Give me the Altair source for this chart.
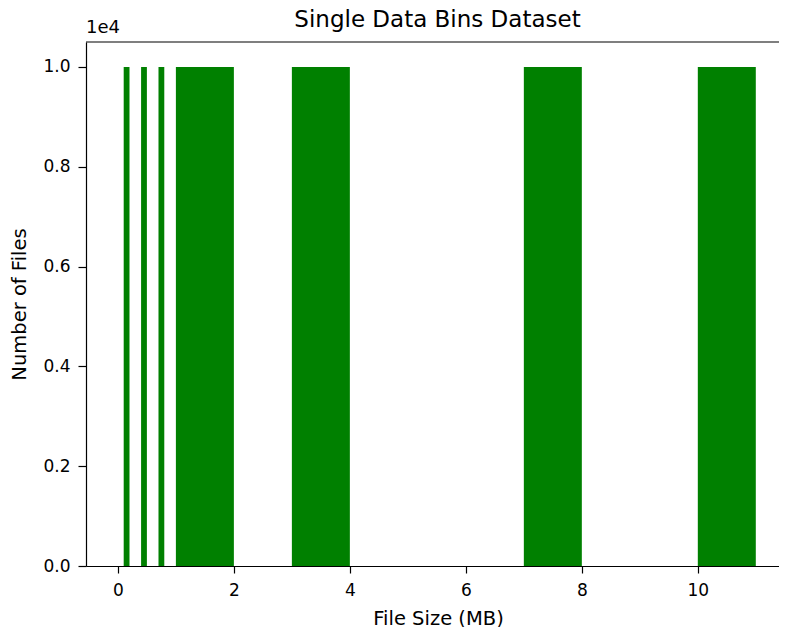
import altair as alt
import pandas as pd

# Bin data (file size bins in MB)
bin_left = [0.1, 0.4, 0.7, 1, 3, 7, 10]
bin_width = [0.1, 0.1, 0.1, 1, 1, 1, 1]
file_counts = [10000, 10000, 10000, 10000, 10000, 10000, 10000]

x_ticks = [0, 2, 4, 6, 8, 10]
y_ticks = [0, 2000, 4000, 6000, 8000, 10000]
x_domain = [-0.55, 11.4]
y_domain = [0, 10500]

df = pd.DataFrame({"left": bin_left, "width": bin_width, "count": file_counts})

FONT = "DejaVu Sans"
W, H = 693, 524

bars = (
    alt.Chart(df)
    .transform_calculate(right="datum.left + datum.width")
    .mark_bar(color="#008000")
    .encode(
        x=alt.X(
            "left:Q",
            scale=alt.Scale(domain=x_domain, nice=False, zero=False),
            axis=alt.Axis(
                values=x_ticks,
                title="File Size (MB)",
                format="d",
                titleX=352,
                titleY=58,
                titleAlign="center",
                titleBaseline="alphabetic",
                titleFontSize=19.5,
                labelFontSize=17,
                tickSize=7,
                labelPadding=9,
            ),
        ),
        x2="right:Q",
        y=alt.Y(
            "count:Q",
            scale=alt.Scale(domain=y_domain, nice=False),
            axis=alt.Axis(
                values=y_ticks,
                labelExpr="format(datum.value / 10000, '.1f')",
                title="Number of Files",
                titleX=-61,
                titleY=262,
                titleAngle=270,
                titleAlign="center",
                titleBaseline="alphabetic",
                titleFontSize=19.5,
                labelFontSize=17,
                tickSize=8,
                labelPadding=8,
            ),
        ),
        y2=alt.datum(0),
    )
)

top_spine = (
    alt.Chart(pd.DataFrame({"top": [y_domain[1]]}))
    .mark_rule(color="black", strokeWidth=1.2)
    .encode(y="top:Q")
)

exp_label = (
    alt.Chart(pd.DataFrame({"t": ["1e4"]}))
    .mark_text(align="left", baseline="alphabetic", font=FONT, fontSize=18, color="black")
    .encode(text="t:N", x=alt.value(0), y=alt.value(-9))
)

title_text = (
    alt.Chart(pd.DataFrame({"t": ["Single Data Bins Dataset"]}))
    .mark_text(align="center", baseline="alphabetic", font=FONT, fontSize=23, color="black")
    .encode(text="t:N", x=alt.value(351.5), y=alt.value(-15))
)

chart = (
    alt.layer(bars, top_spine, exp_label, title_text)
    .properties(
        width=W,
        height=H,
        padding={"left": 78, "top": 34, "right": 0, "bottom": 62},
        autosize="none",
    )
    .configure_view(stroke=None)
    .configure_axis(
        labelFont=FONT,
        titleFont=FONT,
        labelColor="black",
        titleColor="black",
        tickColor="black",
        domainColor="black",
        domainWidth=1.2,
        tickWidth=1.2,
        grid=False,
        titleFontWeight="normal",
    )
)

chart.save("out.html", embed_options={"renderer": "svg", "actions": False})
